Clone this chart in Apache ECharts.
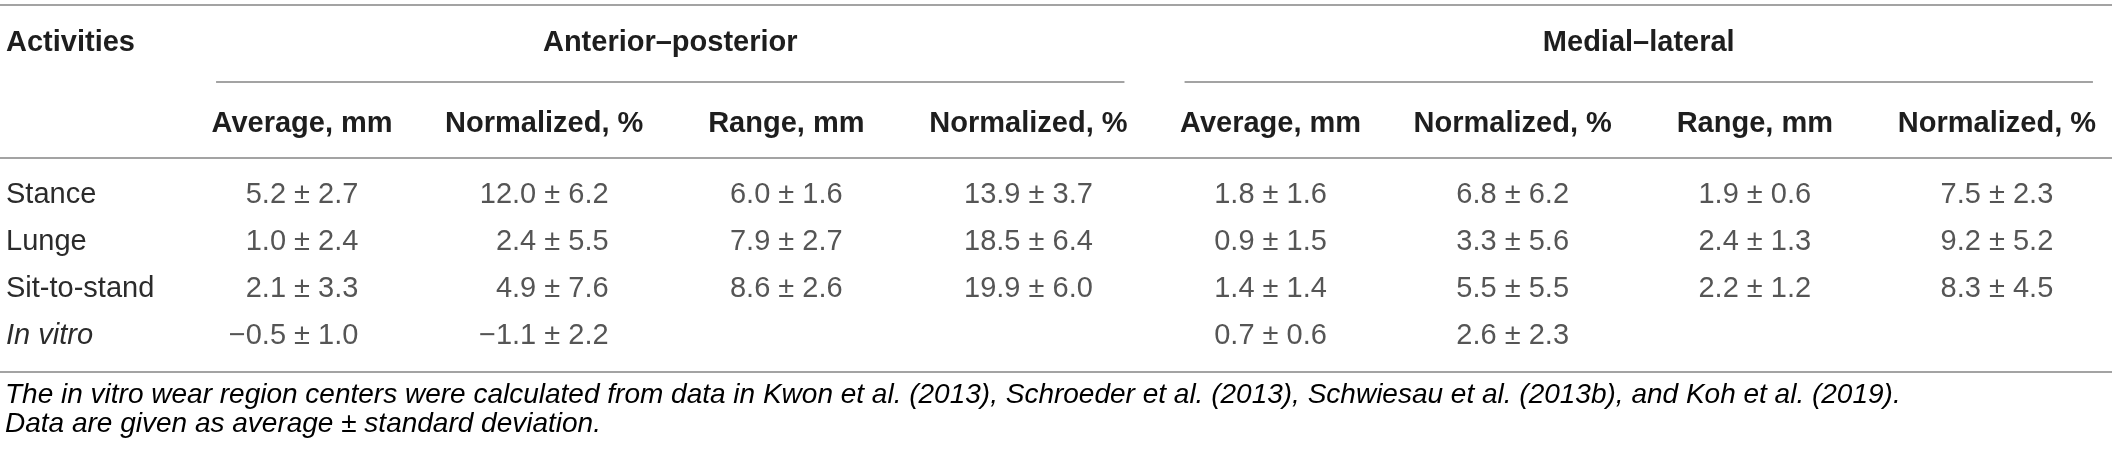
<!DOCTYPE html>
<html>
<head>
<meta charset="utf-8">
<script src="https://cdn.jsdelivr.net/npm/echarts@6/dist/echarts.min.js"></script>
<style>
  html, body { margin: 0; padding: 0; background: #fff; }
  #table { width: 2118px; height: 457px; }
</style>
</head>
<body>
<div id="table"></div>
<script>
// rows and headers
var activities = ['Stance', 'Lunge', 'Sit-to-stand', 'In vitro'];
var columns = ['Average, mm', 'Normalized, %', 'Range, mm', 'Normalized, %',
               'Average, mm', 'Normalized, %', 'Range, mm', 'Normalized, %'];
var groups = ['Anterior\u2013posterior', 'Medial\u2013lateral'];

// mean / sd per column, one entry per activity (null = empty cell)
var apAverage = [5.2, 1.0, 2.1, -0.5];
var apAverageSd = [2.7, 2.4, 3.3, 1.0];
var apAverageNorm = [12.0, 2.4, 4.9, -1.1];
var apAverageNormSd = [6.2, 5.5, 7.6, 2.2];
var apRange = [6.0, 7.9, 8.6, null];
var apRangeSd = [1.6, 2.7, 2.6, null];
var apRangeNorm = [13.9, 18.5, 19.9, null];
var apRangeNormSd = [3.7, 6.4, 6.0, null];
var mlAverage = [1.8, 0.9, 1.4, 0.7];
var mlAverageSd = [1.6, 1.5, 1.4, 0.6];
var mlAverageNorm = [6.8, 3.3, 5.5, 2.6];
var mlAverageNormSd = [6.2, 5.6, 5.5, 2.3];
var mlRange = [1.9, 2.4, 2.2, null];
var mlRangeSd = [0.6, 1.3, 1.2, null];
var mlRangeNorm = [7.5, 9.2, 8.3, null];
var mlRangeNormSd = [2.3, 5.2, 4.5, null];

// footnotes
var note1 = [
    ['The in vitro wear region centers were calculated from data in ', 'n'],
    ['Kwon et al. (2013)', 'ref'], [', ', 'n'],
    ['Schroeder et al. (2013)', 'ref'], [', ', 'n'],
    ['Schwiesau et al. (2013b)', 'ref'], [', and ', 'n'],
    ['Koh et al. (2019)', 'ref'], ['.', 'n']
];
var note2 = 'Data are given as average \u00b1 standard deviation.';

var means = [apAverage, apAverageNorm, apRange, apRangeNorm, mlAverage, mlAverageNorm, mlRange, mlRangeNorm];
var sds = [apAverageSd, apAverageNormSd, apRangeSd, apRangeNormSd, mlAverageSd, mlAverageNormSd, mlRangeSd, mlRangeNormSd];

var FONT = '"Liberation Sans", Arial, Helvetica, sans-serif';
var BODY_SIZE = 29, HEAD_SIZE = 29, NOTE_SIZE = 28;
var BODY_COLOR = '#2b2b2b', HEAD_COLOR = '#1e1e1e', RULE = '#858585';

function fmt(m, s) {
    var t = Math.abs(m).toFixed(1) + ' \u00b1 ' + s.toFixed(1);
    return m < 0 ? '\u2212' + t : t;
}

// measure so that each column's values right-align like the printed table
var ctx = document.createElement('canvas').getContext('2d');
ctx.font = BODY_SIZE + 'px ' + FONT;

var cells = [];
means.forEach(function (col, c) {
    var half = 0;
    col.forEach(function (m, r) {
        if (m == null) return;
        var w = ctx.measureText(fmt(Math.abs(m), sds[c][r])).width;
        if (w > half * 2) half = w / 2;
    });
    col.forEach(function (m, r) {
        if (m == null) return;
        cells.push({
            value: [c, r],
            label: { formatter: fmt(m, sds[c][r]), offset: [half, 0] }
        });
    });
});

var chart = echarts.init(document.getElementById('table'));

var option = {
    animation: false,
    grid: { left: 181, width: 1952, top: 171.5, height: 188 },
    xAxis: {
        type: 'category',
        position: 'top',
        data: columns.map(function (d, i) { return i; }),
        axisLine: { show: false },
        axisTick: { show: false },
        splitLine: { show: false },
        axisLabel: {
            interval: 0,
            margin: 48,
            verticalAlign: 'middle',
            formatter: function (v, i) { return columns[i]; },
            fontFamily: FONT, fontSize: HEAD_SIZE, fontWeight: 'bold', color: HEAD_COLOR
        }
    },
    yAxis: {
        type: 'category',
        inverse: true,
        data: activities,
        axisLine: { show: false },
        axisTick: { show: false },
        splitLine: { show: false },
        axisLabel: {
            interval: 0,
            align: 'left',
            margin: 175,
            fontFamily: FONT, fontSize: BODY_SIZE, color: BODY_COLOR,
            formatter: function (v) { return v === 'In vitro' ? '{it|' + v + '}' : v; },
            rich: { it: { fontFamily: FONT, fontSize: BODY_SIZE, color: BODY_COLOR, fontStyle: 'italic' } }
        }
    },
    series: [{
        type: 'scatter',
        symbolSize: 0,
        silent: true,
        data: cells,
        label: {
            show: true,
            position: 'inside',
            align: 'right',
            verticalAlign: 'middle',
            fontFamily: FONT, fontSize: BODY_SIZE, color: BODY_COLOR
        }
    }]
};
chart.setOption(option);

// table rules, group headers and notes, placed from the axes
var TABLE_RIGHT = 2112;
var band = 1952 / columns.length;
var row0 = chart.convertToPixel({ gridIndex: 0 }, [0, 0]);
var rowN = chart.convertToPixel({ gridIndex: 0 }, [0, activities.length - 1]);
var rowBand = 188 / activities.length;
var headRule = row0[1] - rowBand / 2 - 13.5;
var footRule = rowN[1] + rowBand / 2 + 12.5;

function hline(x1, x2, y) {
    return { type: 'line', silent: true, shape: { x1: x1, y1: y, x2: x2, y2: y },
             style: { stroke: RULE, lineWidth: 1.5 } };
}

var graphics = [
    hline(0, TABLE_RIGHT, 5),
    hline(0, TABLE_RIGHT, headRule),
    hline(0, TABLE_RIGHT, footRule),
    { type: 'text', silent: true, x: 6, y: 43,
      style: { text: 'Activities', font: 'bold ' + HEAD_SIZE + 'px ' + FONT, fill: HEAD_COLOR,
               textAlign: 'left', textVerticalAlign: 'middle' } }
];

groups.forEach(function (g, gi) {
    var first = chart.convertToPixel({ gridIndex: 0 }, [gi * 4, 0])[0];
    var last = chart.convertToPixel({ gridIndex: 0 }, [gi * 4 + 3, 0])[0];
    var x1 = first - band / 2 + 36;
    var x2 = Math.min(last + band / 2 - 26, TABLE_RIGHT);
    graphics.push(hline(x1, x2, 82));
    graphics.push({ type: 'text', silent: true, x: (x1 + x2) / 2, y: 43,
        style: { text: g, font: 'bold ' + HEAD_SIZE + 'px ' + FONT, fill: HEAD_COLOR,
                 textAlign: 'center', textVerticalAlign: 'middle' } });
});

var noteRich = {
    n: { fontFamily: FONT, fontSize: NOTE_SIZE, fontStyle: 'italic', color: '#3a3a3a' },
    ref: { fontFamily: FONT, fontSize: NOTE_SIZE, fontStyle: 'italic', color: '#808080' }
};
graphics.push({ type: 'text', silent: true, x: 5, y: footRule + 23,
    style: { text: note1.map(function (p) { return '{' + p[1] + '|' + p[0] + '}'; }).join(''),
             rich: noteRich, verticalAlign: 'middle', align: 'left' } });
graphics.push({ type: 'text', silent: true, x: 5, y: footRule + 52,
    style: { text: '{n|' + note2 + '}', rich: noteRich, verticalAlign: 'middle', align: 'left' } });

chart.setOption({ graphic: graphics });
</script>
</body>
</html>
